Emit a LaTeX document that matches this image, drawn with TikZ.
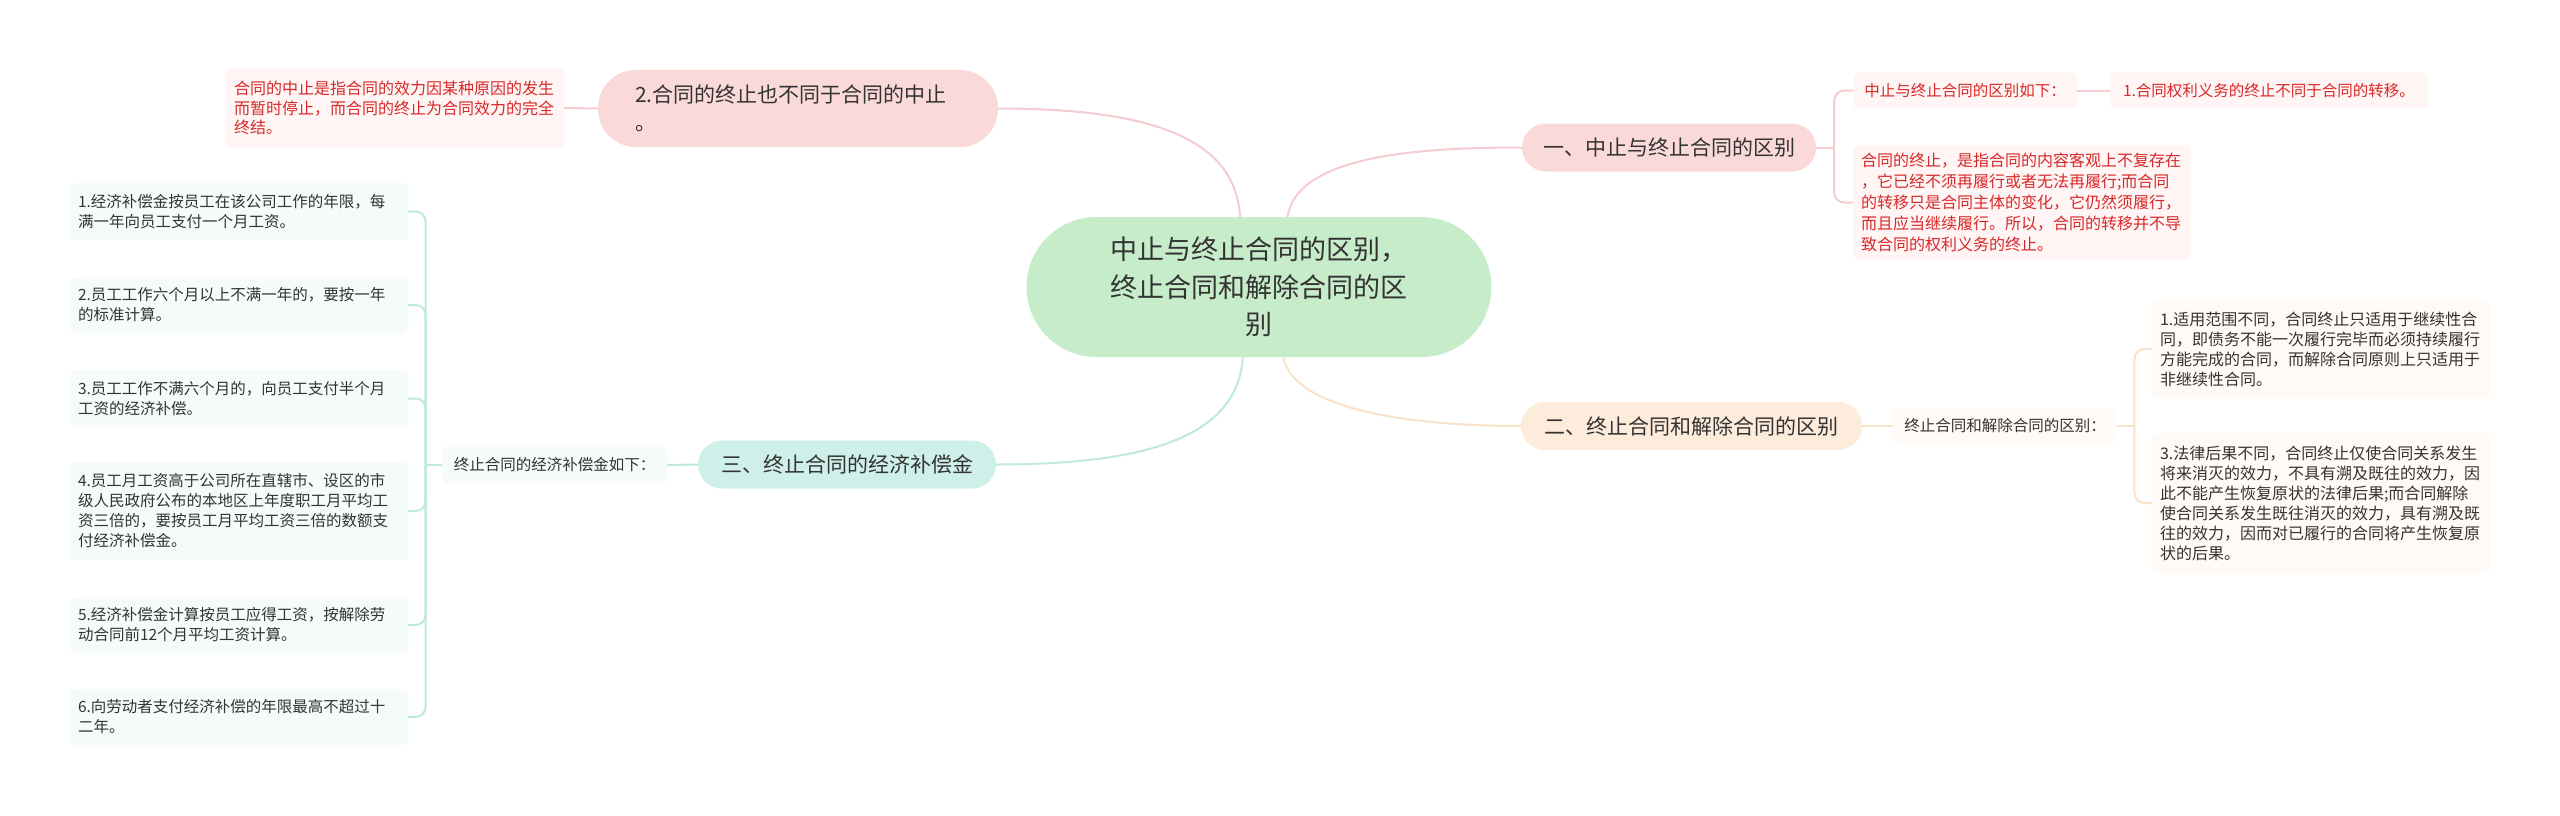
\documentclass[tikz,border=0pt]{standalone}
\usepackage{fontspec}
\newfontfamily\cjk{Noto Sans CJK SC}
\usepackage{xcolor}
\definecolor{rootGreen}{RGB}{199,236,201}
\definecolor{topicPink}{RGB}{250,217,217}
\definecolor{topicPeach}{RGB}{253,235,219}
\definecolor{topicTeal}{RGB}{207,240,233}
\definecolor{leafPink}{RGB}{255,245,245}
\definecolor{leafPeach}{RGB}{255,250,245}
\definecolor{leafTeal}{RGB}{245,251,251}
\definecolor{redText}{RGB}{216,40,40}
\definecolor{textGray}{RGB}{51,51,51}
\definecolor{linePink}{RGB}{245,205,208}
\definecolor{linePeach}{RGB}{250,226,202}
\definecolor{lineTeal}{RGB}{190,232,224}
\usepackage{tikz}
\usetikzlibrary{positioning, calc}
\tikzset{
rootnode/.style={fill=rootGreen, rounded corners=70pt, minimum width=465pt, minimum height=140pt,
  inner sep=0pt, align=center, text=textGray, font=\cjk\fontsize{27}{37.5}\selectfont},
topic/.style={rounded corners=24pt, minimum height=48pt, inner sep=0pt, align=center,
  text=textGray, font=\cjk\fontsize{21}{28}\selectfont},
leaf/.style={rounded corners=6pt, inner xsep=8pt, inner ysep=0pt, align=left,
  text=textGray, font=\cjk\fontsize{15.5}{20}\selectfont},
redleaf/.style={leaf, fill=leafPink, text=redText, font=\cjk\fontsize{16}{19.5}\selectfont},
peachleaf/.style={leaf, fill=leafPeach, font=\cjk\fontsize{16}{20}\selectfont},
tealleaf/.style={leaf, fill=leafTeal},
pinkline/.style={draw=linePink, line width=2pt},
peachline/.style={draw=linePeach, line width=2pt},
tealline/.style={draw=lineTeal, line width=2pt},
}

\begin{document}
\begin{tikzpicture}[x=1pt, y=-1pt]
\fill[white] (0,0) rectangle (2560,816);
\useasboundingbox (0,0) rectangle (2560,816);

% === Root ===
\node[rootnode] (root) at (1259,287) {中止与终止合同的区别，\\终止合同和解除合同的区\\别};

% === Upper left ===
\node[topic, fill=topicPink, text width=326pt, inner xsep=37pt, minimum height=77pt,
  rounded corners=38pt, align=left] (t2) at (798,108.5) {2.合同的终止也不同于合同的中止\\。};
\node[redleaf, text width=322pt, minimum height=80pt] (l0) at (395,108)
  {合同的中止是指合同的效力因某种原因的发生\\而暂时停止，而合同的终止为合同效力的完全\\终结。};

% === Branch one ===
\node[topic, fill=topicPink, minimum width=294pt] (b1) at (1669,147.5) {一、中止与终止合同的区别};
\node[redleaf, font=\cjk\fontsize{15.5}{20}\selectfont, inner xsep=11pt, minimum height=36pt] (a1) at (1965,90.5) {中止与终止合同的区别如下：};
\node[redleaf, font=\cjk\fontsize{15.5}{20}\selectfont, inner xsep=13pt, minimum height=36pt] (a1a) at (2269,90.5) {1.合同权利义务的终止不同于合同的转移。};
\node[redleaf, text width=322pt, minimum height=115pt, font=\cjk\fontsize{16}{21}\selectfont] (a2) at (2022,202.5)
  {合同的终止，是指合同的内容客观上不复存在\\，它已经不须再履行或者无法再履行;而合同\\的转移只是合同主体的变化，它仍然须履行，\\而且应当继续履行。所以，合同的转移并不导\\致合同的权利义务的终止。};

% === Branch two ===
\node[topic, fill=topicPeach, minimum width=341pt] (b2) at (1691.5,426) {二、终止合同和解除合同的区别};
\node[peachleaf, font=\cjk\fontsize{15.5}{20}\selectfont, inner xsep=11pt, minimum height=36pt] (bL) at (2005,426) {终止合同和解除合同的区别：};
\node[peachleaf, text width=322pt, minimum height=98pt] (d1) at (2321,349)
  {1.适用范围不同，合同终止只适用于继续性合\\同，即债务不能一次履行完毕而必须持续履行\\方能完成的合同，而解除合同原则上只适用于\\非继续性合同。};
\node[peachleaf, text width=322pt, minimum height=140pt] (d2) at (2321,503)
  {3.法律后果不同，合同终止仅使合同关系发生\\将来消灭的效力，不具有溯及既往的效力，因\\此不能产生恢复原状的法律后果;而合同解除\\使合同关系发生既往消灭的效力，具有溯及既\\往的效力，因而对已履行的合同将产生恢复原\\状的后果。};

% === Branch three ===
\node[topic, fill=topicTeal, minimum width=298pt] (b3) at (847,464.5) {三、终止合同的经济补偿金};
\node[tealleaf, inner xsep=12pt, minimum height=36pt] (cL) at (554.5,465) {终止合同的经济补偿金如下：};
\node[tealleaf, text width=322pt, minimum height=57pt] (c1) at (239,211.5)
  {1.经济补偿金按员工在该公司工作的年限，每\\满一年向员工支付一个月工资。};
\node[tealleaf, text width=322pt, minimum height=56pt] (c2) at (239,305)
  {2.员工工作六个月以上不满一年的，要按一年\\的标准计算。};
\node[tealleaf, text width=322pt, minimum height=57pt] (c3) at (239,398.5)
  {3.员工工作不满六个月的，向员工支付半个月\\工资的经济补偿。};
\node[tealleaf, text width=322pt, minimum height=98pt] (c4) at (239,511)
  {4.员工月工资高于公司所在直辖市、设区的市\\级人民政府公布的本地区上年度职工月平均工\\资三倍的，要按员工月平均工资三倍的数额支\\付经济补偿金。};
\node[tealleaf, text width=322pt, minimum height=56pt] (c5) at (239,625)
  {5.经济补偿金计算按员工应得工资，按解除劳\\动合同前12个月平均工资计算。};
\node[tealleaf, text width=322pt, minimum height=56pt] (c6) at (239,717)
  {6.向劳动者支付经济补偿的年限最高不超过十\\二年。};

% === Connectors from root ===
\draw[pinkline] (root.105) .. controls +(-5,-80) and +(150,0) .. (t2.east);
\draw[pinkline] (root.68) .. controls +(10,-60) and +(-110,0) .. (b1.west);
\draw[peachline] (root.-71) .. controls +(10,50) and +(-120,0) .. (b2.west);
\draw[tealline] (root.-103) .. controls +(-5,80) and +(150,0) .. (b3.east);

% === Brackets ===
\draw[pinkline] (t2.west) -- (l0.east);
\draw[pinkline] (a1.east) -- (a1a.west);
\coordinate (aJ) at ($(b1.east)+(18,0)$);
\draw[pinkline] (b1.east) -- (aJ);
\foreach \n in {a1,a2} {\draw[pinkline, rounded corners=10pt] (aJ) |- (\n.west);}

\draw[peachline] (b2.east) -- (bL.west);
\coordinate (bJ) at ($(bL.east)+(17.5,0)$);
\draw[peachline] (bL.east) -- (bJ);
\foreach \n in {d1,d2} {\draw[peachline, rounded corners=10pt] (bJ) |- (\n.west);}

\draw[tealline] (b3.west) -- (cL.east);
\coordinate (cJ) at ($(cL.west)+(-16,0)$);
\draw[tealline] (cL.west) -- (cJ);
\foreach \i in {1,...,6} {\draw[tealline, rounded corners=10pt] (cJ) |- (c\i.east);}

\end{tikzpicture}
\end{document}
